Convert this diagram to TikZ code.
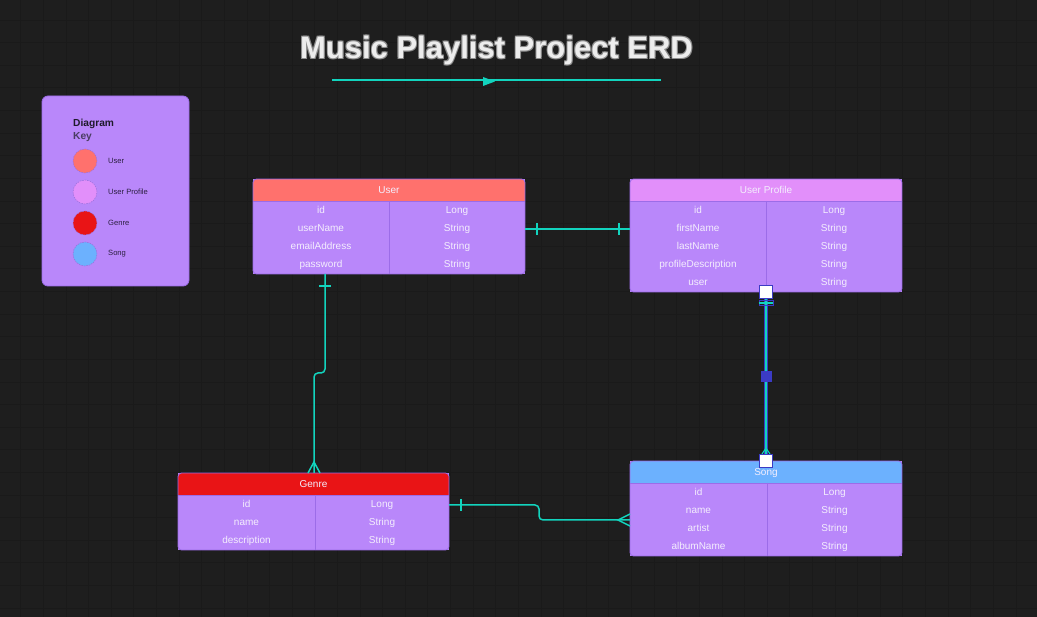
\documentclass[tikz,border=0pt]{standalone}
\usepackage{fontspec}
\setmainfont{Liberation Sans}
\usetikzlibrary{calc}
\definecolor{bgc}{HTML}{1E1E1E}
\definecolor{gridc}{HTML}{1A1A1A}
\definecolor{bodyc}{HTML}{B987FA}
\definecolor{edgec}{HTML}{9C6CE8}
\definecolor{huser}{HTML}{FF716D}
\definecolor{hprof}{HTML}{E28FFA}
\definecolor{hgenre}{HTML}{E91416}
\definecolor{hsong}{HTML}{6CB1FE}
\definecolor{tealc}{HTML}{12D4BE}
\definecolor{cellc}{HTML}{F4EEFD}
\definecolor{selb}{HTML}{3B3BC4}
\definecolor{keyt}{HTML}{1E1A2A}
\definecolor{keyk}{HTML}{4A3D63}
\definecolor{keyl}{HTML}{2B1F40}
\definecolor{dashc}{HTML}{9A70DC}
\tikzset{
  gridl/.style={draw=gridc, line width=0.8},
  tblbox/.style={fill=bodyc, inner sep=0, outer sep=0, anchor=north west},
  tblline/.style={draw=edgec, line width=0.8},
  celltext/.style={text=cellc, font=\fontsize{10}{12}\selectfont, inner sep=0, text height=7.2pt, text depth=2pt},
  hdrtext/.style={celltext},
  rel/.style={draw=tealc, line width=1.5},
  keybox/.style={fill=bodyc, draw=edgec, line width=0.8, rounded corners=6, inner sep=0, outer sep=0, anchor=north west},
  keydot/.style={circle, minimum size=24, inner sep=0, draw=dashc, dash pattern=on 1.5pt off 1pt, line width=0.5},
  keylabel/.style={anchor=west, inner sep=0, text=keyl, font=\fontsize{7.6}{9}\selectfont},
  keytitle/.style={anchor=west, inner sep=0, font=\bfseries\fontsize{10.2}{12}\selectfont},
  titletext/.style={anchor=base, inner sep=0, font=\bfseries\fontsize{31}{36}\selectfont},
  handle/.style={draw=selb, fill=white, minimum size=13, inner sep=0, line width=1},
  midhandle/.style={fill=selb, minimum size=11, inner sep=0},
}
\newcommand{\erdtable}[9]{%
  \node[tblbox, minimum width=#4, minimum height={23+18*#5}] (#1) at (#2,#3) {};
  \begin{scope}
    \clip[rounded corners=3.5] (#1.north west) rectangle (#1.south east);
    \fill[#7] (#1.north west) rectangle ([yshift=-22pt]#1.north east);
  \end{scope}
  \draw[tblline] ([yshift=-22pt]#1.north west) -- ([yshift=-22pt]#1.north east);
  \draw[tblline] ([xshift=#6pt,yshift=-22pt]#1.north west) -- ([xshift=#6pt]#1.south west);
  \draw[tblline, rounded corners=3.5] (#1.north west) rectangle (#1.south east);
  \node[hdrtext] (#1-title) at ([yshift=-12pt]#1.north) {#8};
  \foreach \ca/\cb [count=\rk] in {#9} {
    \node[celltext] (#1-a\rk) at ([xshift={#6/2}, yshift={-32-18*(\rk-1)}]#1.north west) {\ca};
    \node[celltext] (#1-b\rk) at ([xshift={#6+(#4-#6)/2}, yshift={-32-18*(\rk-1)}]#1.north west) {\cb};
  }
}
\begin{document}
\begin{tikzpicture}[x=1pt, y=-1pt]
\useasboundingbox (0,0) rectangle (1037,617);
\fill[bgc] (0,0) rectangle (1037,617);
\foreach \gx in {0,...,45} \draw[gridl] ({20.7+22.62*\gx},0) -- ({20.7+22.62*\gx},617);
\foreach \gy in {0,...,26} \draw[gridl] (0,{20+22.62*\gy}) -- (1037,{20+22.62*\gy});

% title
\foreach \dx/\dy [count=\tk] in {0.9/0.9,-0.9/0.9,0.9/-0.9,-0.9/-0.9}
  \node[titletext, text=black!45] (tsh\tk) at ({496.5+\dx},{58.3+\dy}) {Music Playlist Project ERD};
\node[titletext, text=white!93!black] (title) at (496.5,58.3) {Music Playlist Project ERD};
\coordinate (tl) at (332,80);
\coordinate (tr) at (661,80);
\draw[rel] (tl) -- (tr);
\fill[tealc] (483,77) -- (495,81.5) -- (483,86) -- cycle;

% key
\node[keybox, minimum width=147, minimum height=190] (key) at (42,96) {};
\node[keytitle, text=keyt] (keyt1) at (73,123.5) {Diagram};
\node[keytitle, text=keyk] (keyt2) at (73,137.5) {Key};
\node[keydot, fill=huser] (k1) at (85,161) {};
\node[keydot, fill=hprof] (k2) at (85,192) {};
\node[keydot, fill=hgenre] (k3) at (85,223) {};
\node[keydot, fill=hsong] (k4) at (85,254) {};
\node[keylabel] (kl1) at (108,161) {User};
\node[keylabel] (kl2) at (108,192) {User Profile};
\node[keylabel] (kl3) at (108,223) {Genre};
\node[keylabel] (kl4) at (108,254) {Song};

% tables
\erdtable{user}{253}{179}{272}{4}{136}{huser}{User}{id/Long,userName/String,emailAddress/String,password/String}
\erdtable{profile}{630}{179}{272}{5}{136}{hprof}{User Profile}{id/Long,firstName/String,lastName/String,profileDescription/String,user/String}
\erdtable{genre}{178}{473}{271}{3}{137}{hgenre}{Genre}{id/Long,name/String,description/String}
\erdtable{song}{630}{461}{272}{4}{137}{hsong}{Song}{id/Long,name/String,artist/String,albumName/String}

% User -- User Profile (one to one)
\draw[rel] ([yshift=-50pt]user.north east) -- ([yshift=-50pt]profile.north west);
\draw[rel] ([xshift=12pt,yshift=-44pt]user.north east) -- ([xshift=12pt,yshift=-56pt]user.north east);
\draw[rel] ([xshift=-11pt,yshift=-44pt]profile.north west) -- ([xshift=-11pt,yshift=-56pt]profile.north west);

% User -- Genre (one to many)
\draw[rel, rounded corners=4] ([xshift=72pt]user.south west) |- ([xshift=136pt,yshift=100pt]genre.north west) -- ([xshift=136pt]genre.north west);
\draw[rel] ([xshift=66pt,yshift=-12pt]user.south west) -- ([xshift=78pt,yshift=-12pt]user.south west);
\draw[rel] ([xshift=130pt]genre.north west) -- ([xshift=136pt,yshift=11pt]genre.north west) -- ([xshift=142pt]genre.north west);

% Genre -- Song (one to many)
\draw[rel, rounded corners=4] ([yshift=-32pt]genre.north east) -- ++(90,0) |- ([yshift=-59pt]song.north west);
\draw[rel] ([xshift=12pt,yshift=-26pt]genre.north east) -- ([xshift=12pt,yshift=-38pt]genre.north east);
\draw[rel] ([yshift=-53pt]song.north west) -- ([xshift=-12pt,yshift=-59pt]song.north west) -- ([yshift=-65pt]song.north west);

% User Profile -- Song (selected connector)
\draw[selb, line width=4.5] (profile.south) -- (song.north);
\draw[rel, line width=1.8] (profile.south) -- (song.north);
\node[draw=selb, minimum width=14, minimum height=5, inner sep=0, line width=0.8] (pbar) at ([yshift=-11pt]profile.south) {};
\draw[rel] (pbar.west) -- (pbar.east);
\draw[rel, line width=1] ([xshift=-4pt,yshift=7pt]song.north) -- ([yshift=13pt]song.north) -- ([xshift=4pt,yshift=7pt]song.north);
\node[handle] (h1) at (profile.south) {};
\node[handle] (h2) at (song.north) {};
\node[midhandle] (hm) at ($(profile.south)!0.5!(song.north)$) {};
\end{tikzpicture}
\end{document}
